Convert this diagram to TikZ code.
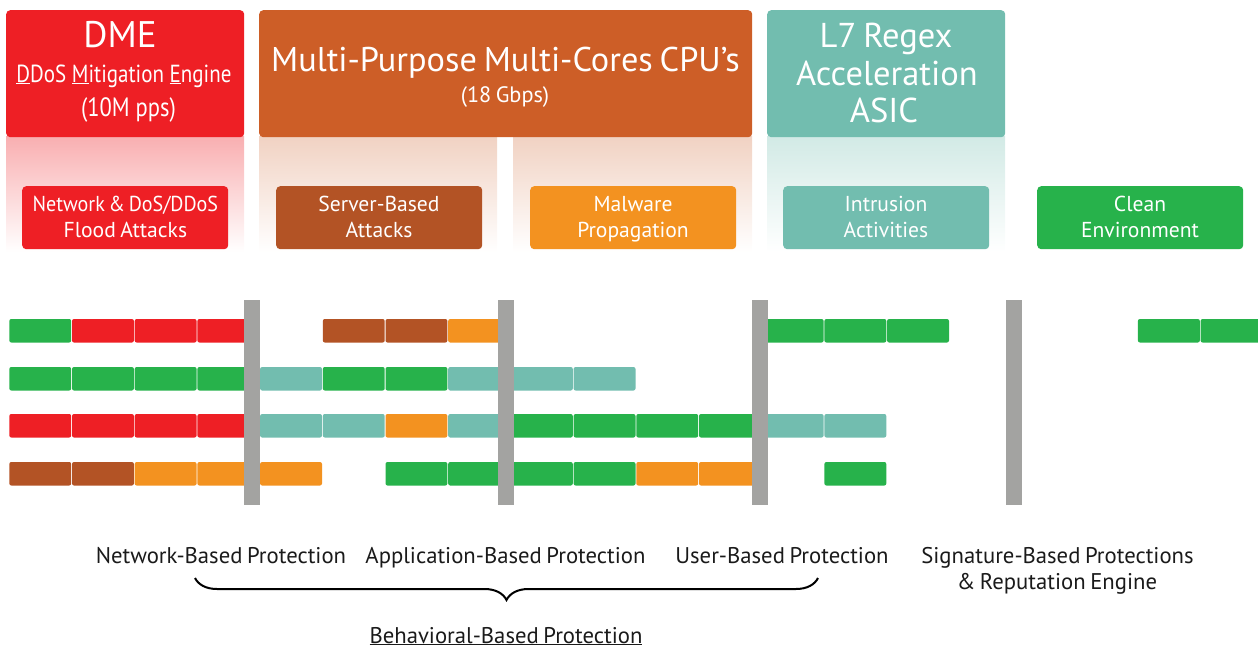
\documentclass[tikz,border=0pt]{standalone}
\usepackage{fontspec}
\setmainfont{PT Sans}[WordSpace=0.75]
\newfontfamily\narrowfont{PT Sans}[FakeStretch=0.85]
\newfontfamily\semifont{PT Sans}[FakeStretch=0.93, WordSpace=0.7]
\usetikzlibrary{decorations.pathreplacing}
\definecolor{cred}{HTML}{EE1F25}
\definecolor{corange}{HTML}{CD5E27}
\definecolor{cbrown}{HTML}{B35325}
\definecolor{cyellow}{HTML}{F39220}
\definecolor{cteal}{HTML}{72BDAF}
\definecolor{cgreen}{HTML}{27B24B}
\definecolor{cgray}{HTML}{A3A3A1}
\definecolor{ctext}{HTML}{1A1A1A}
\tikzset{
  topbox/.style={rectangle, rounded corners=4pt, anchor=north west, inner sep=0pt, minimum height=127pt},
  subbox/.style={rectangle, rounded corners=4pt, anchor=north west, inner sep=0pt, minimum width=206pt, minimum height=63pt},
  wt/.style={text=white, anchor=base, inner sep=0pt},
  subt/.style={wt, font=\fontsize{21.6}{21.6}\selectfont},
  bt/.style={text=ctext, anchor=base, inner sep=0pt, font=\fontsize{22.7}{26}\selectfont},
  seg/.style={rounded corners=2pt},
  sepbar/.style={fill=cgray},
}
\begin{document}
\begin{tikzpicture}[x=1pt,y=-1pt]
\useasboundingbox (0,0) rectangle (1258,648);
\clip (0,0) rectangle (1258,648);
% fades
\shade[top color=cred!36, bottom color=white] (6,136) rectangle (244,252);
\shade[top color=corange!28, bottom color=white] (259,136) rectangle (497,252);
\shade[top color=corange!28, bottom color=white] (513,136) rectangle (752,252);
\shade[top color=cteal!32, bottom color=white] (767,136) rectangle (1005,252);
% top boxes
\node[topbox, fill=cred, minimum width=238pt] (dme) at (6,10) {};
\node[topbox, fill=corange, minimum width=493pt] (cpu) at (259,10) {};
\node[topbox, fill=cteal, minimum width=238pt] (asic) at (767,10) {};
\node[wt, font=\fontsize{37}{37}\selectfont] (dme1) at (120,47) {DME};
\node[wt, font=\narrowfont\fontsize{24.7}{24.7}\selectfont] (dme2) at (124,82) {\underline{D}DoS \underline{M}itigation \underline{E}ngine};
\node[wt, font=\narrowfont\fontsize{26.5}{26.5}\selectfont] (dme3) at (128.5,116) {(10M pps)};
\node[wt, font=\fontsize{34.3}{34.3}\selectfont] (cpu1) at (505.5,71) {Multi-Purpose Multi-Cores CPU’s};
\node[wt, font=\fontsize{22.3}{22.3}\selectfont] (cpu2) at (505,102) {(18 Gbps)};
\node[wt, font=\fontsize{34.5}{34.5}\selectfont] (asic1) at (886,47) {L7 Regex};
\node[wt, font=\fontsize{34.5}{34.5}\selectfont] (asic2) at (887,85.5) {Acceleration};
\node[wt, font=\fontsize{34.5}{34.5}\selectfont] (asic3) at (884,122) {ASIC};
% sub boxes
\node[subbox, fill=cred] (sb1) at (22,186) {};
\node[subbox, fill=cbrown] (sb2) at (276,186) {};
\node[subbox, fill=cyellow] (sb3) at (530,186) {};
\node[subbox, fill=cteal] (sb4) at (783,186) {};
\node[subbox, fill=cgreen] (sb5) at (1037,186) {};
\node[subt, font=\semifont\fontsize{21.6}{21.6}\selectfont] (sb1a) at (125.4,211) {Network \& DoS/DDoS};
\node[subt] (sb1b) at (125.4,237.5) {Flood Attacks};
\foreach \n/\cx/\la/\lb in {2/379/Server-Based/Attacks, 3/633/Malware/Propagation, 4/886/Intrusion/Activities, 5/1140/Clean/Environment}{
  \node[subt] (sb\n a) at (\cx,211) {\la};
  \node[subt] (sb\n b) at (\cx,237.5) {\lb};
}
% segments
\foreach \yy/\segs in {
  319/{0/cgreen,1/cred,2/cred,3/cred,5/cbrown,6/cbrown,7/cyellow,12/cgreen,13/cgreen,14/cgreen,18/cgreen,19/cgreen},
  367/{0/cgreen,1/cgreen,2/cgreen,3/cgreen,4/cteal,5/cgreen,6/cgreen,7/cteal,8/cteal,9/cteal},
  414/{0/cred,1/cred,2/cred,3/cred,4/cteal,5/cteal,6/cyellow,7/cteal,8/cgreen,9/cgreen,10/cgreen,11/cgreen,12/cteal,13/cteal},
  462/{0/cbrown,1/cbrown,2/cyellow,3/cyellow,4/cyellow,6/cgreen,7/cgreen,8/cgreen,9/cgreen,10/cyellow,11/cyellow,13/cgreen}}{
  \foreach \k/\c in \segs {
    \fill[seg, \c] ({9.3+62.7*\k}, \yy) rectangle ++(61.9, 23.5);
  }
}
% separator bars
\foreach \bx in {244,498,752,1006}{
  \fill[sepbar] (\bx,300) rectangle ++(16,205);
}
% bottom labels
\node[bt] (nb) at (221,563) {Network-Based Protection};
\node[bt] (ab) at (505.5,563) {Application-Based Protection};
\node[bt] (ub) at (782,563) {User-Based Protection};
\node[bt] (sg1) at (1057.5,563) {Signature-Based Protections};
\node[bt] (sg2) at (1057,589) {\& Reputation Engine};
\coordinate (brl) at (195,578);
\coordinate (brr) at (818,578);
\draw[line width=2pt, decorate, decoration={brace, mirror, amplitude=22pt}] (brl) -- (brr);
\node[bt] (beh) at (506,643) {\underline{Behavioral-Based Protection}};
\end{tikzpicture}
\end{document}
